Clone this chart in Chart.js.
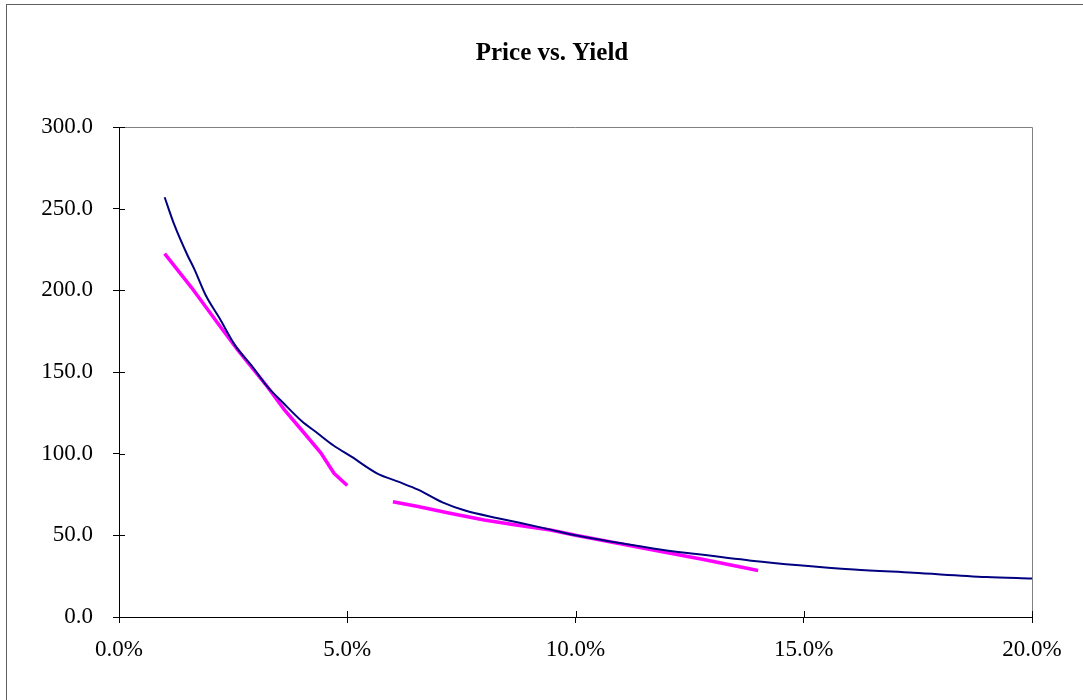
<!DOCTYPE html>
<html>
<head>
    <title>Price vs. Yield</title>
    <meta http-equiv="content-type" content="text/html; charset=UTF-8"/>
    <script src="https://cdn.jsdelivr.net/npm/chart.js@4.4.0/dist/chart.umd.min.js"></script>
    <style>
        html, body {
            margin: 0;
            padding: 0;
            width: 1083px;
            height: 700px;
            overflow: hidden;
            background: #ffffff;
        }
        #frame {
            position: absolute;
            left: 6px;
            top: 4px;
            width: 1090px;
            height: 700px;
            border-left: 1px solid #606060;
            border-top: 1px solid #606060;
        }
        canvas {
            display: block;
        }
    </style>
</head>
<body>
<div id="frame">
    <canvas id="canvas" width="1090" height="700"></canvas>
</div>
<script>
    // exact price curve (yield in %, price)
    var exactYield = [1.0, 1.2, 1.5, 1.65, 1.9, 2.2, 2.55, 2.9, 3.25, 3.6, 4.0, 4.35, 4.7, 5.1, 5.65,
        6.1, 6.55, 7.1, 7.6, 8.3, 8.8, 9.45, 10.0, 11.7, 12.65, 13.85, 14.9, 16.1, 17.4, 19.0, 20.0];
    var exactPrice = [257, 241, 221.5, 213, 197, 183, 166, 154, 141, 131, 120, 112.5, 105, 98, 88,
        83, 78, 70, 65, 60.5, 57.5, 53.5, 50, 42, 38.5, 34.5, 31.7, 29.1, 27.1, 24.5, 23.5];

    // duration approximation around the low and high yields
    var approxLowYield = [1.0, 1.58, 2.16, 2.6, 3.25, 3.62, 4.06, 4.42, 4.71, 5.0];
    var approxLowPrice = [222.5, 202, 180, 163.5, 141, 127, 112.5, 100.5, 88, 80.5];
    var approxHighYield = [6.0, 6.55, 7.25, 8.0, 8.7, 9.45, 10.0, 11.7, 12.75, 14.0];
    var approxHighPrice = [70.6, 67.6, 63.5, 59.4, 56.3, 53.3, 50, 41, 35.5, 28.5];

    var xTicks = [0, 5, 10, 15, 20];
    var yTicks = [0, 50, 100, 150, 200, 250, 300];

    function toPoints(xs, ys) {
        var pts = [];
        for (var i = 0; i < xs.length; i++) {
            pts.push({x: xs[i], y: ys[i]});
        }
        return pts;
    }

    var serif = "'Liberation Serif', 'Times New Roman', serif";

    // plot border on top/right, and the inner half of the cross ticks
    var frameTicks = {
        id: 'frameTicks',
        afterDraw: function(chart) {
            var ctx = chart.ctx;
            var a = chart.chartArea;
            ctx.save();
            ctx.strokeStyle = '#808080';
            ctx.lineWidth = 1;
            ctx.beginPath();
            ctx.moveTo(a.left, a.top + 0.5);
            ctx.lineTo(a.right + 0.5, a.top + 0.5);
            ctx.lineTo(a.right + 0.5, a.bottom);
            ctx.stroke();
            ctx.strokeStyle = '#000000';
            ctx.beginPath();
            var xs = chart.scales.x, ys = chart.scales.y;
            xTicks.forEach(function(v) {
                var px = Math.round(xs.getPixelForValue(v)) + 0.5;
                ctx.moveTo(px, a.bottom);
                ctx.lineTo(px, a.bottom - 6);
            });
            yTicks.forEach(function(v) {
                var py = Math.round(ys.getPixelForValue(v)) + 0.5;
                ctx.moveTo(a.left, py);
                ctx.lineTo(a.left + 6, py);
            });
            ctx.stroke();
            ctx.restore();
        }
    };

    var context = document.getElementById("canvas").getContext("2d");
    var myChart = new Chart(context, {
        type: 'line',
        data: {
            datasets: [
                {
                    label: 'Price',
                    data: toPoints(exactYield, exactPrice),
                    borderColor: '#000080',
                    borderWidth: 2,
                    pointRadius: 0,
                    cubicInterpolationMode: 'monotone',
                    fill: false
                },
                {
                    label: 'Approx low',
                    data: toPoints(approxLowYield, approxLowPrice),
                    borderColor: '#ff00ff',
                    borderWidth: 3.5,
                    pointRadius: 0,
                    fill: false
                },
                {
                    label: 'Approx high',
                    data: toPoints(approxHighYield, approxHighPrice),
                    borderColor: '#ff00ff',
                    borderWidth: 3.5,
                    pointRadius: 0,
                    fill: false
                }
            ]
        },
        options: {
            responsive: false,
            maintainAspectRatio: false,
            animation: false,
            events: [],
            layout: {padding: {left: 0, right: 0, top: 0, bottom: 28}},
            plugins: {
                legend: {display: false},
                tooltip: {enabled: false},
                title: {
                    display: true,
                    text: 'Price vs. Yield',
                    color: '#000000',
                    font: {family: serif, size: 25, weight: 'bold'},
                    padding: {top: 34, bottom: 58}
                }
            },
            scales: {
                x: {
                    type: 'linear',
                    min: 0,
                    max: 20,
                    afterFit: function(scale) { scale.height = 60; },
                    afterBuildTicks: function(scale) {
                        scale.ticks = xTicks.map(function(v) { return {value: v}; });
                    },
                    grid: {display: true, drawOnChartArea: false, drawTicks: true, tickLength: 6, color: '#000000'},
                    border: {display: true, color: '#000000', width: 1},
                    ticks: {
                        color: '#000000',
                        font: {family: serif, size: 23},
                        padding: 13,
                        maxRotation: 0,
                        callback: function(v) { return v.toFixed(1) + '%'; }
                    }
                },
                y: {
                    min: 0,
                    max: 300,
                    afterFit: function(scale) { scale.width = 112; },
                    afterBuildTicks: function(scale) {
                        scale.ticks = yTicks.map(function(v) { return {value: v}; });
                    },
                    grid: {display: true, drawOnChartArea: false, drawTicks: true, tickLength: 6, color: '#000000'},
                    border: {display: true, color: '#000000', width: 1},
                    ticks: {
                        color: '#000000',
                        font: {family: serif, size: 23},
                        padding: 20,
                        callback: function(v) { return v.toFixed(1); }
                    }
                },
                // empty right-hand spacer so the plot ends where the reference does
                spacer: {
                    position: 'right',
                    display: true,
                    afterFit: function(scale) { scale.width = 65; },
                    grid: {display: false},
                    border: {display: false},
                    ticks: {display: false}
                }
            }
        },
        plugins: [frameTicks]
    });
</script>
</body>
</html>
